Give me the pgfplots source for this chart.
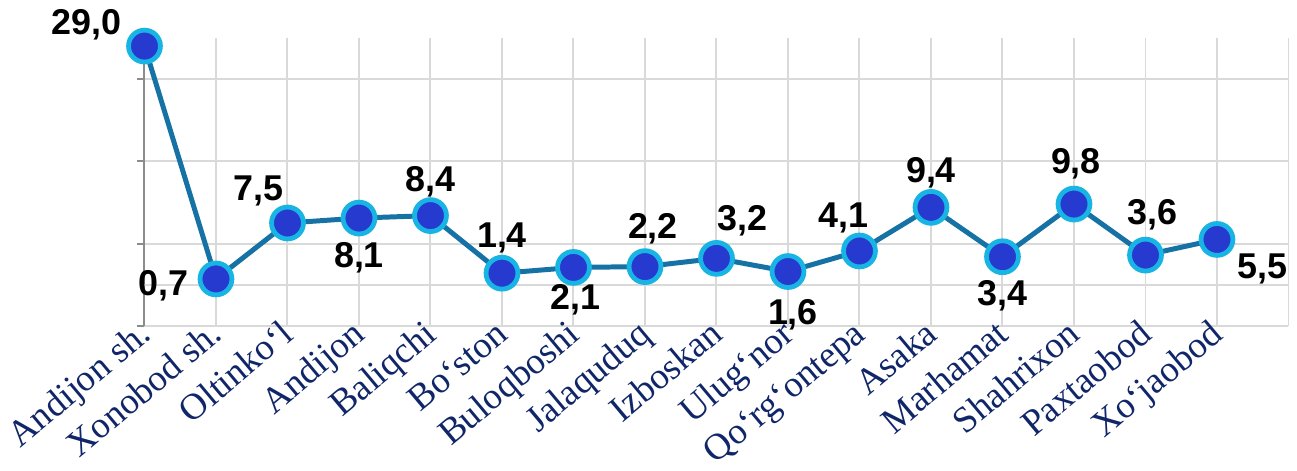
\documentclass[border=0pt]{standalone}
\usepackage{pgfplots}
\pgfplotsset{compat=1.18}
\usepackage{pgfplotstable}
\usepackage{fontspec}
\setmainfont{Liberation Serif}
\newfontfamily\lblfont{Liberation Sans}

\definecolor{navy}{RGB}{16,38,104}
\definecolor{lineblue}{RGB}{22,114,164}
\definecolor{dotblue}{RGB}{38,58,208}
\definecolor{ringcyan}{RGB}{24,180,228}
\definecolor{gridgray}{RGB}{217,217,217}
\definecolor{axgray}{RGB}{140,140,140}

% x, value, label offset (pt)
\pgfplotstableread{
x y dx dy
0 29.0 -29 10.5
1 0.7 -26.5 -3.5
2 7.5 -14.5 16
3 8.1 0 -20
4 8.4 0 17
5 1.4 0 17.5
6 2.1 1 -16
7 2.2 4 19
8 3.2 13 19
9 1.6 2.5 -21.5
10 4.1 -8 16.5
11 9.4 0 17.5
12 3.4 0 -19.5
13 9.8 1 20
14 3.6 3.5 20
15 5.5 23 -15
}\datatable

\begin{document}
\begin{tikzpicture}
\begin{axis}[
  scale only axis,
  width=574pt, height=144.5pt,
  xmin=0, xmax=16, ymin=-5, ymax=30,
  clip=false,
  axis x line*=bottom, axis y line*=left,
  x axis line style={gridgray, line width=1pt},
  y axis line style={axgray, line width=1pt},
  xtick={0,...,15},
  xticklabels={Andijon sh., Xonobod sh., Oltinko‘l, Andijon, Baliqchi, Bo‘ston, Buloqboshi, Jalaquduq, Izboskan, Ulug‘nor, Qo‘rg‘ontepa, Asaka, Marhamat, Shahrixon, Paxtaobod, Xo‘jaobod},
  xticklabel style={rotate=40, anchor=base east, xshift=2pt, yshift=-4pt,
    font=\fontsize{18.5pt}{20pt}\selectfont, text=navy, inner sep=0pt},
  x tick style={draw=none},
  extra x ticks={16}, extra x tick labels={},
  extra x tick style={grid=major, tick style={draw=none}},
  ytick={-5,5,15,25}, yticklabels={},
  y tick style={axgray, line width=1pt},
  tick align=outside, major tick length=4pt,
  extra y ticks={0}, extra y tick labels={},
  extra y tick style={grid=major, tick style={draw=none}},
  xmajorgrids, ymajorgrids,
  grid style={gridgray, line width=1pt},
  nodes near coords,
  /pgf/number format/.cd, use comma, fixed, fixed zerofill, precision=1, assume math mode=true,
]
\addplot[
  color=lineblue, line width=2.5pt,
  mark=*, mark size=8pt,
  mark options={fill=dotblue, draw=ringcyan, line width=2.4pt},
  visualization depends on={\thisrow{dx}\as\dx},
  visualization depends on={\thisrow{dy}\as\dy},
  every node near coord/.append style={anchor=center, xshift=\dx pt, yshift=\dy pt,
    font=\lblfont\bfseries\fontsize{18pt}{20pt}\selectfont, text=black, inner sep=0pt},
] table[x=x, y=y] {\datatable};
\end{axis}
% white margin round the picture, as in the reference
\path ([yshift=19pt]current axis.north west) ([xshift=2pt,yshift=19pt]current axis.north east)
  ([xshift=-72.5pt,yshift=-66pt]current axis.south west);
\end{tikzpicture}
\end{document}
